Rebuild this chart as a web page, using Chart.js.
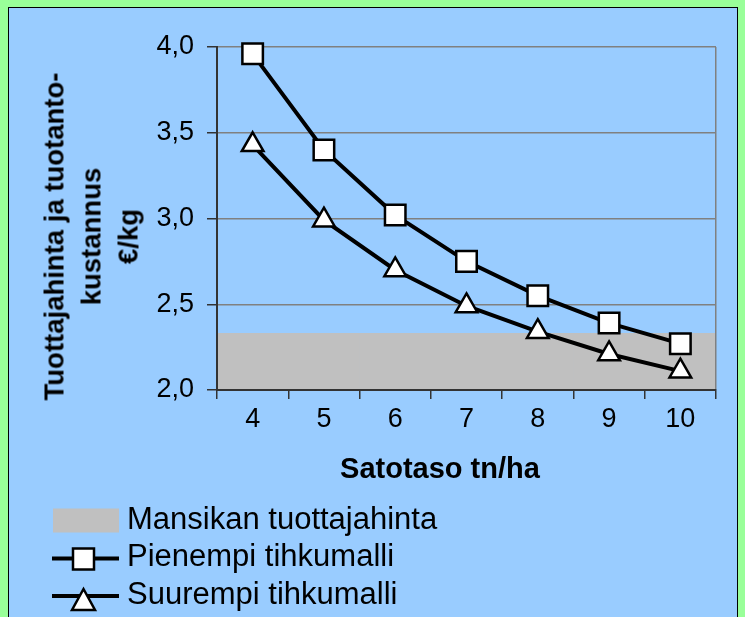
<!DOCTYPE html>
<html><head><meta charset="utf-8">
<script src="https://cdn.jsdelivr.net/npm/chart.js@4/dist/chart.umd.min.js"></script>
<style>
html,body{margin:0;padding:0;background:#99FF99;width:745px;height:617px;overflow:hidden;font-family:"Liberation Sans",Arial,sans-serif;}
#panel{position:absolute;left:8px;top:7px;width:730px;height:620px;background:#99CCFF;border:1px solid #000;box-sizing:border-box;}
#c{position:absolute;left:0;top:0;}
#ytitle{position:absolute;width:400px;height:111px;left:-109.5px;top:180.5px;transform:rotate(-90deg);text-align:center;font-weight:bold;font-size:27.5px;line-height:37px;color:#000;}
#xtitle{position:absolute;left:240px;width:400px;top:450px;height:37px;line-height:37px;text-align:center;font-weight:bold;font-size:29px;color:#000;white-space:nowrap;}
.row{position:absolute;left:52px;height:37px;display:flex;align-items:center;white-space:nowrap;font-size:31px;color:#000;}
.row svg{flex:none;display:block;}
</style>
</head><body>
<div id="panel"></div>
<canvas id="c" width="745" height="617"></canvas>
<div id="ytitle">Tuottajahinta ja tuotanto-<br>kustannus<br>€/kg</div>
<div id="xtitle"></div>
<div class="row" style="top:500.5px"><svg width="75" height="37"><rect x="1" y="7.5" width="66" height="24" fill="#C0C0C0"/></svg><span id="lg0"></span></div>
<div class="row" style="top:537.5px"><svg width="75" height="37"><line x1="0" y1="20.5" x2="67" y2="20.5" stroke="#000" stroke-width="4"/><rect x="21" y="10.5" width="21" height="21" fill="#fff" stroke="#000" stroke-width="2.5"/></svg><span id="lg1"></span></div>
<div class="row" style="top:575px"><svg width="75" height="37"><line x1="0" y1="21" x2="67" y2="21" stroke="#000" stroke-width="4"/><polygon points="31.5,14 43,35 20,35" fill="#fff" stroke="#000" stroke-width="2.5" stroke-linejoin="miter"/></svg><span id="lg2"></span></div>
<script>
const categories = ['4', '5', '6', '7', '8', '9', '10'];
const seriesNames = ['Mansikan tuottajahinta', 'Pienempi tihkumalli', 'Suurempi tihkumalli'];
const tuottajahinta = [2.33, 2.33, 2.33, 2.33, 2.33, 2.33, 2.33];
const pienempi = [3.96, 3.40, 3.02, 2.75, 2.55, 2.39, 2.27];
const suurempi = [3.43, 2.99, 2.70, 2.49, 2.34, 2.21, 2.11];
const yTicks = [2.0, 2.5, 3.0, 3.5, 4.0];
const xTitle = 'Satotaso tn/ha';

seriesNames.forEach((n, i) => { document.getElementById('lg' + i).textContent = n; });
document.getElementById('xtitle').textContent = xTitle;

const FAM = '"Liberation Sans", Arial, sans-serif';
Chart.defaults.font.family = FAM;
Chart.defaults.color = '#000';

new Chart(document.getElementById('c'), {
  data: {
    labels: categories,
    datasets: [
      {
        type: 'line', label: seriesNames[1], data: pienempi, order: 1,
        borderColor: '#000', borderWidth: 4, tension: 0, clip: false,
        pointStyle: 'rect', pointRadius: 14.5, pointHoverRadius: 14.5,
        pointBackgroundColor: '#fff', pointBorderColor: '#000', pointBorderWidth: 2.5
      },
      {
        type: 'line', label: seriesNames[2], data: suurempi, order: 2,
        borderColor: '#000', borderWidth: 4, tension: 0, clip: false,
        pointStyle: 'triangle', pointRadius: 12.5, pointHoverRadius: 12.5,
        pointBackgroundColor: '#fff', pointBorderColor: '#000', pointBorderWidth: 2.5
      },
      {
        type: 'bar', label: seriesNames[0], data: tuottajahinta, order: 10,
        base: yTicks[0], backgroundColor: '#C0C0C0', borderWidth: 0,
        barPercentage: 1, categoryPercentage: 1
      }
    ]
  },
  options: {
    responsive: false,
    animation: false,
    events: [],
    layout: { padding: { left: 0, top: 47, right: 29, bottom: 127 } },
    plugins: { legend: { display: false }, tooltip: { enabled: false } },
    scales: {
      x: {
        type: 'category', offset: true,
        grid: {
          offset: true, z: 1, lineWidth: 1.5,
          color: ctx => ctx.type === 'tick' ? 'rgba(0,0,0,0)' : '#808080',
          tickColor: '#333', tickLength: 9, tickWidth: 1.5
        },
        border: { color: '#333', width: 2, z: 1 },
        ticks: { font: { size: 27 }, color: '#000', padding: 4 },
        afterFit: s => { s.height = 100; }
      },
      y: {
        min: yTicks[0], max: yTicks[yTicks.length - 1],
        afterBuildTicks: s => { s.ticks = yTicks.map(v => ({ value: v })); },
        grid: { color: '#808080', lineWidth: 1.5, tickColor: '#333', tickLength: 10, tickWidth: 1.5 },
        border: { color: '#333', width: 2, z: 1 },
        ticks: { font: { size: 27 }, color: '#000', padding: 13, callback: v => Number(v).toFixed(1).replace('.', ',') },
        afterFit: s => { s.width = 217; }
      }
    }
  }
});
</script>
</body></html>
